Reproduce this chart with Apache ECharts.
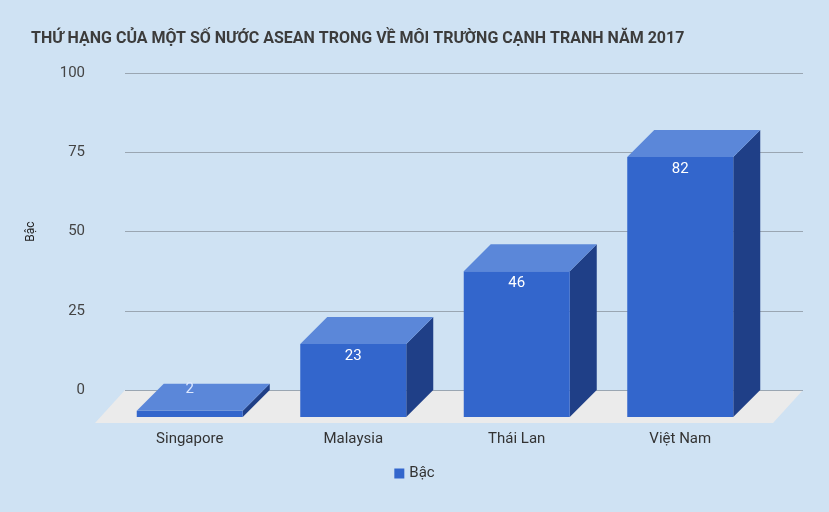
<!DOCTYPE html>
<html>
<head>
<meta charset="utf-8">
<script src="https://cdn.jsdelivr.net/npm/echarts@6/dist/echarts.min.js"></script>
<style>html,body{margin:0;padding:0;background:#cfe2f3}#container{width:829px;height:512px}</style>
</head>
<body>
<div id="container"></div>
<script>
var countries = ['Singapore', 'Malaysia', 'Thái Lan', 'Việt Nam'];
var ranks = [2, 23, 46, 82];
var yTicks = [0, 25, 50, 75, 100];

var depth = 27; // 3d offset in px
var halfW = 53;

var myChart = echarts.init(document.getElementById('container'));

function renderBar(params, api) {
    var idx = api.value(0);
    var v = api.value(1);
    var top = api.coord([idx, v]);
    var base = api.coord([idx, 0]);
    var bx = top[0], yt = top[1], yb = base[1];
    var fl = bx - halfW - depth, fr = bx + halfW - depth;
    var children = [
        { type: 'polygon', shape: { points: [[fr, yt + depth], [bx + halfW, yt], [bx + halfW, yb], [fr, yb + depth]] },
          style: { fill: '#1f3f87' } },
        { type: 'rect', shape: { x: fl, y: yt + depth, width: fr - fl, height: yb - yt },
          style: { fill: '#3366cc' } },
        { type: 'polygon', shape: { points: [[fl, yt + depth], [fr, yt + depth], [bx + halfW, yt], [bx - halfW, yt]] },
          style: { fill: '#5b87d9' } },
        { type: 'text', style: { text: String(countries[idx]), x: bx - depth, y: yb + depth + 22,
          align: 'center', verticalAlign: 'middle', fill: '#333', font: '15px Roboto' } }
    ];
    var ly = (yb - yt) > 30 ? yt + depth + 12 : yt + 6;
    children.push({ type: 'text', style: { text: String(v), x: bx - depth, y: ly,
        align: 'center', verticalAlign: 'middle', fill: (yb - yt) > 30 ? '#fff' : '#dde8ff', font: '15px Roboto' } });
    return { type: 'group', children: children };
}

var option = {
    backgroundColor: '#cfe2f3',
    title: {
        text: 'THỨ HẠNG CỦA MỘT SỐ NƯỚC ASEAN TRONG VỀ MÔI TRƯỜNG CẠNH TRANH NĂM 2017',
        left: 26, top: 26,
        textStyle: { fontFamily: 'Roboto', fontSize: 16, fontWeight: 'bold', color: '#3c3c3c' }
    },
    legend: {
        data: ['Bậc'], bottom: 26, left: 'center', icon: 'rect', itemWidth: 10, itemHeight: 10,
        textStyle: { fontFamily: 'Roboto', fontSize: 15, color: '#333' }
    },
    grid: { left: 125, right: 26, top: 73, bottom: 122 },
    graphic: [{
        type: 'polygon', z: 0,
        shape: { points: [[125, 390], [803, 390], [773, 423], [95, 423]] },
        style: { fill: '#ebebeb' }
    }],
    xAxis: {
        type: 'value', min: -0.5 - 10 / 163.5, max: 3.5 + 14 / 163.5, show: false
    },
    yAxis: {
        type: 'value', min: 0, max: 100, interval: 25,
        name: 'Bậc', nameLocation: 'middle', nameGap: 88, nameRotate: 90,
        nameTextStyle: { fontFamily: 'Roboto', fontSize: 12, color: '#222' },
        axisLine: { show: false }, axisTick: { show: false },
        axisLabel: { margin: 40, fontFamily: 'Roboto', fontSize: 15, color: '#444' },
        splitLine: { lineStyle: { color: '#9aa6b2' } }
    },
    series: [{
        name: 'Bậc', type: 'custom', z: 5,
        itemStyle: { color: '#3366cc' },
        renderItem: renderBar,
        data: ranks.map(function (r, i) { return [i, r]; })
    }]
};
myChart.setOption(option, true);
</script>
</body>
</html>
